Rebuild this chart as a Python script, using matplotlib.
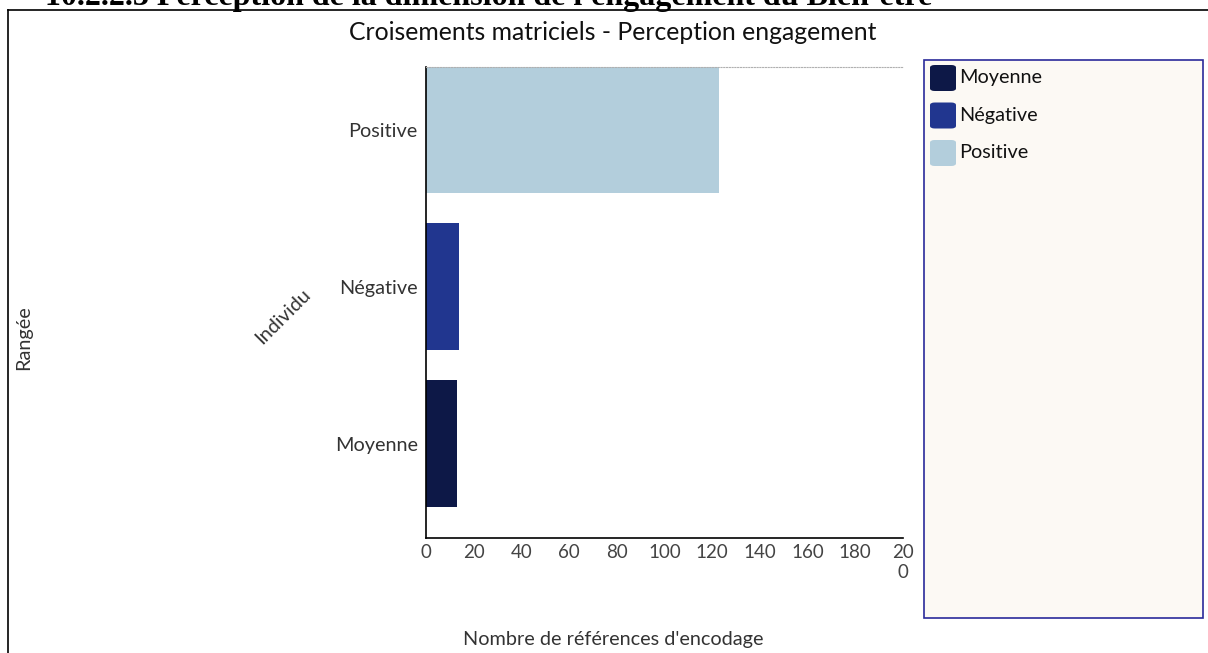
import matplotlib
matplotlib.use("Agg")
import matplotlib.pyplot as plt
from matplotlib.patches import Rectangle, FancyBboxPatch
from matplotlib.lines import Line2D

# Data
categories = ["Moyenne", "Négative", "Positive"]
values = [13, 14, 123]
colors = ["#0d1847", "#21368f", "#b3cedc"]
x_ticks = [0, 20, 40, 60, 80, 100, 120, 140, 160, 180, 200]
x_tick_labels = ["0", "20", "40", "60", "80", "100", "120", "140", "160", "180", "20\n0"]

W, H = 1208, 653
fig = plt.figure(figsize=(W / 100, H / 100), dpi=100)
fig.patch.set_facecolor("white")

def fx(px):
    return px / W

def fy(py):
    return 1 - py / H

# Section heading (runs off the top of the page)
fig.text(fx(45), fy(5), "10.2.2.3 Perception de la dimension de l'engagement du Bien-être",
         family="Liberation Serif", weight="bold", fontsize=23, color="black",
         ha="left", va="baseline")

# Outer frame
fig.add_artist(Line2D([fx(8), fx(8)], [fy(10), fy(660)], color="black", lw=1.2))
fig.add_artist(Line2D([fx(8), fx(1210)], [fy(10), fy(10)], color="black", lw=1.2))

ax = fig.add_axes([fx(426), fy(538), fx(903) - fx(426), fy(67) - fy(538)])
ypos = list(range(len(categories)))
ax.barh(ypos, values, height=0.81, color=colors)
ax.set_xlim(0, 200)
ax.set_ylim(-0.6, 2.4)
ax.set_yticks(ypos)
ax.set_yticklabels(categories, family="Lato", fontsize=14.3, color="#333333")
ax.set_xticks(x_ticks)
ax.set_xticklabels(x_tick_labels, family="Lato", fontsize=13.5, color="#444444",
                   linespacing=1.25, va="top")
ax.tick_params(axis="both", length=0, pad=4)
ax.tick_params(axis="y", pad=6)
ax.spines["right"].set_visible(False)
ax.spines["top"].set_linestyle((0, (1, 1.5)))
ax.spines["top"].set_color("#b0b0b0")
ax.spines["top"].set_linewidth(0.8)
ax.spines["left"].set_color("black")
ax.spines["bottom"].set_color("black")
ax.spines["left"].set_linewidth(1.2)
ax.spines["bottom"].set_linewidth(1.2)

# Titles and axis labels
fig.text(fx(613), fy(33), "Croisements matriciels - Perception engagement",
         family="Lato", fontsize=17.8, color="#111111", ha="center", va="center")
fig.text(fx(613), fy(640), "Nombre de références d'encodage",
         family="Lato", fontsize=14.3, color="#333333", ha="center", va="center")
fig.text(fx(24), fy(338), "Rangée", family="Lato", fontsize=14.3, color="#333333",
         rotation=90, ha="center", va="center")
fig.text(fx(283), fy(316), "Individu", family="Lato", fontsize=14.3, color="#333333",
         rotation=45, ha="center", va="center")

# Legend panel
fig.add_artist(Rectangle((fx(924), fy(618)), fx(1203) - fx(924), fy(60) - fy(618),
                         transform=fig.transFigure, facecolor="#fcf9f4",
                         edgecolor="#2a2a9a", lw=1.2))
for i, (cat, col) in enumerate(zip(categories, colors)):
    cy = 78 + i * 37.5
    fig.add_artist(FancyBboxPatch((fx(930), fy(cy + 13)), fx(26), fy(cy - 13) - fy(cy + 13),
                                  boxstyle="round,pad=0,rounding_size=0.004",
                                  transform=fig.transFigure, facecolor=col,
                                  edgecolor="none"))
    fig.text(fx(959), fy(cy), cat, family="Lato", fontsize=14.3, color="#111111",
             ha="left", va="center")

fig.savefig("out.png", dpi=100)
